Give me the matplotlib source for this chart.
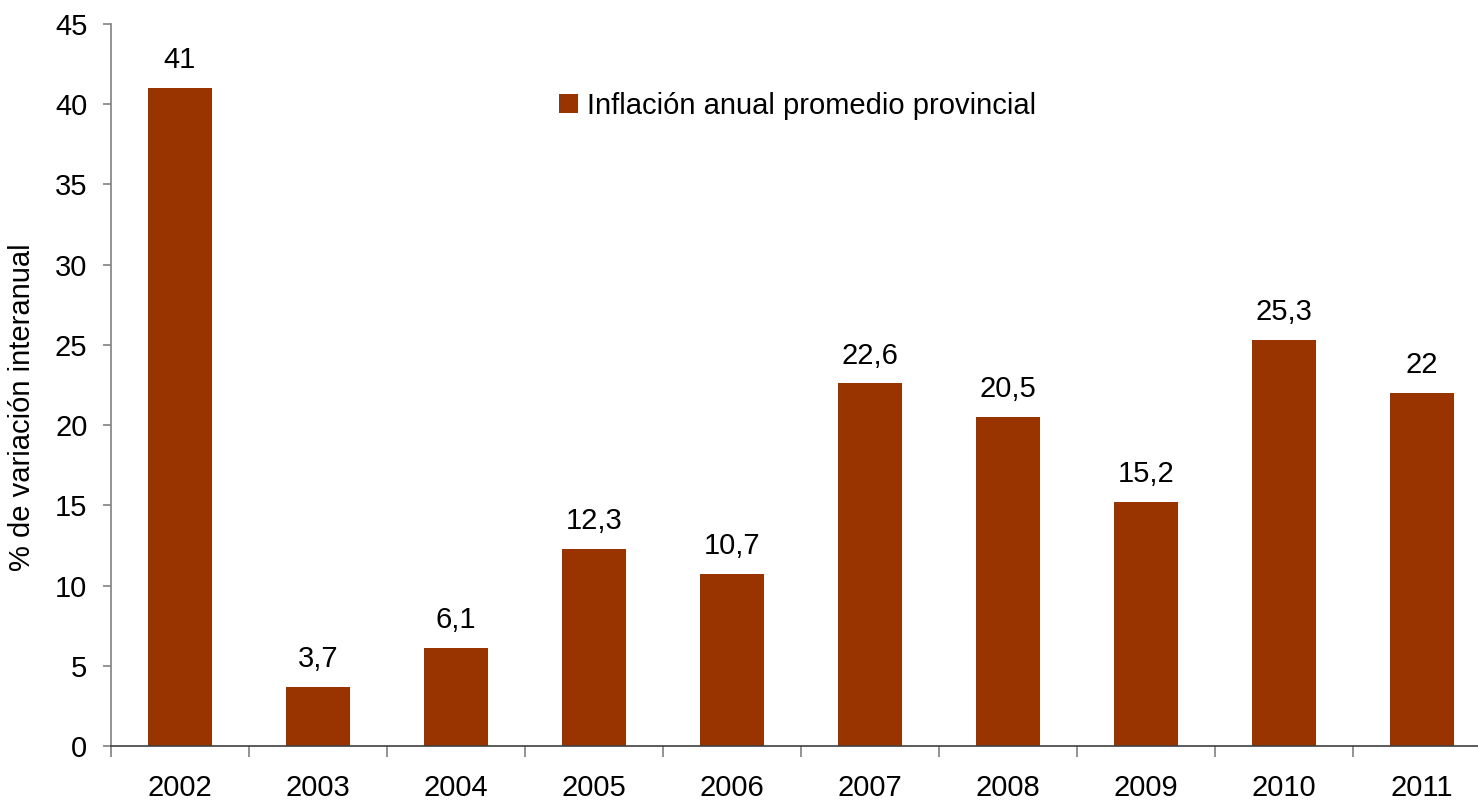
import numpy as np
import matplotlib.pyplot as plt

plt.rcParams['font.family'] = ['Liberation Sans', 'DejaVu Sans']

# datos
anios = ["2002", "2003", "2004", "2005", "2006", "2007", "2008", "2009", "2010", "2011"]
inflacion = [41, 3.7, 6.1, 12.3, 10.7, 22.6, 20.5, 15.2, 25.3, 22]
etiquetas = ["41", "3,7", "6,1", "12,3", "10,7", "22,6", "20,5", "15,2", "25,3", "22"]

color_barra = "#993300"
gris = "#808080"

fig = plt.figure(figsize=(14.78, 8.02), dpi=100)
ax = fig.add_axes([111/1478, 56/802, 1 - 111/1478, (746 - 24)/802])

x = np.arange(len(anios))
barras = ax.bar(x, inflacion, width=0.46, color=color_barra,
                label="Inflación anual promedio provincial")
ax.bar_label(barras, labels=etiquetas, padding=10, fontsize=21)

ax.set_xlim(-0.5, 9.5 - 13/138)
ax.set_ylim(0, 45)
ax.set_yticks(np.arange(0, 46, 5))
ax.set_xticks(x)
ax.set_xticklabels(anios)
ax.set_xticks(np.arange(-0.5, 9.5, 1), minor=True)
ax.tick_params(axis='x', which='major', length=0, pad=20, labelsize=21)
ax.tick_params(axis='x', which='minor', length=8, color=gris, width=1.2)
ax.tick_params(axis='y', length=6, color=gris, width=1.2, pad=11, labelsize=21)

for lado in ["top", "right"]:
    ax.spines[lado].set_visible(False)
ax.spines["left"].set_color(gris)
ax.spines["bottom"].set_color("#404040")
ax.spines["left"].set_linewidth(1.2)
ax.spines["bottom"].set_linewidth(1.2)

fig.text(22/1478, 395/802, "% de variación interanual", rotation=90,
         ha='center', va='center', fontsize=21)

ax.legend(loc='center left', bbox_to_anchor=(533/1478, 1 - 106/802),
          bbox_transform=fig.transFigure, frameon=False, fontsize=21,
          handlelength=0.65, handleheight=0.65, handletextpad=0.3)

fig.savefig("out.png", dpi=100)
